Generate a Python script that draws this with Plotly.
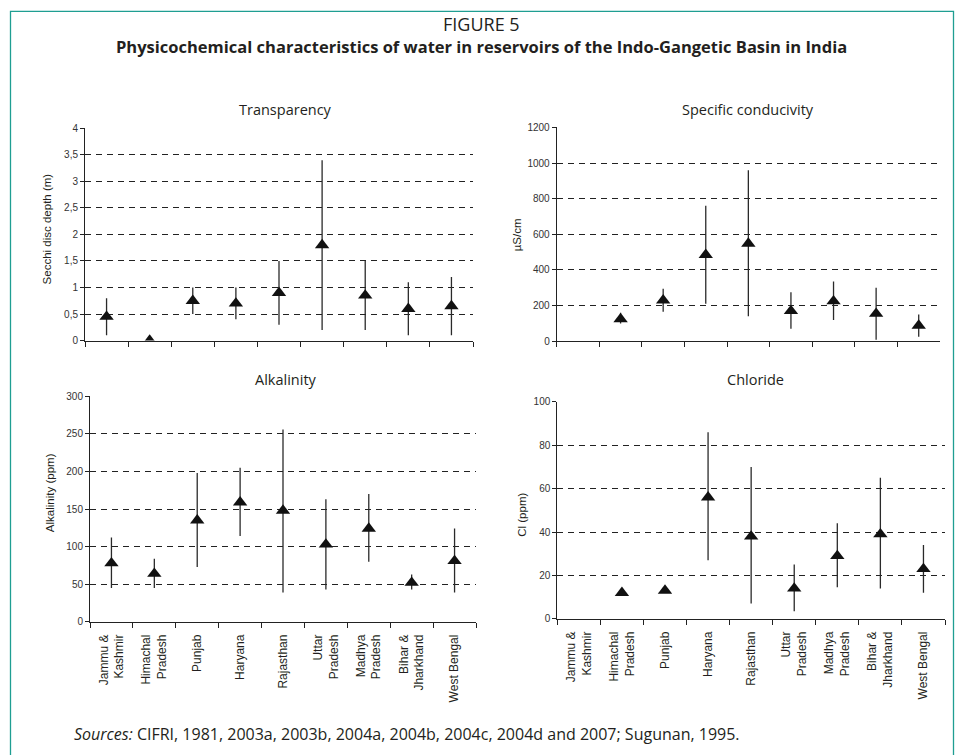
import plotly.graph_objects as go

W, H = 962, 755

regions = ["Jammu &<br>Kashmir", "Himachal<br>Pradesh", "Punjab", "Haryana", "Rajasthan",
           "Uttar<br>Pradesh", "Madhya<br>Pradesh", "Bihar &<br>Jharkhand", "West Bengal"]

# Secchi disc depth (m): mean, minimum, maximum
transparency_mean = [0.45, 0.0, 0.75, 0.7, 0.9, 1.8, 0.85, 0.6, 0.65]
transparency_min = [0.1, None, 0.5, 0.4, 0.3, 0.2, 0.2, 0.1, 0.1]
transparency_max = [0.8, None, 1.0, 1.0, 1.5, 3.4, 1.5, 1.1, 1.2]
transparency_ticks = [0, 0.5, 1, 1.5, 2, 2.5, 3, 3.5, 4]
transparency_ticktext = ["0", "0,5", "1", "1,5", "2", "2,5", "3", "3,5", "4"]

# Specific conductivity (µS/cm)
conductivity_mean = [None, 125, 230, 485, 548, 170, 225, 155, 88]
conductivity_min = [None, 100, 165, 210, 140, 70, 120, 8, 25]
conductivity_max = [None, 160, 295, 760, 960, 275, 335, 300, 150]

# Alkalinity (ppm)
alkalinity_mean = [78, 64, 135, 159, 148, 103, 124, 52, 81]
alkalinity_min = [45, 45, 73, 114, 39, 43, 80, 43, 39]
alkalinity_max = [112, 84, 198, 205, 256, 163, 170, 63, 124]

# Chloride (ppm)
chloride_mean = [None, 12, 13, 56, 38, 14, 29, 39, 23]
chloride_min = [None, None, None, 27, 7, 3.5, 14.5, 14, 12]
chloride_max = [None, None, None, 86, 70, 25, 44, 65, 34]

TEXT = "#231f20"
TICK_FONT = dict(family="Liberation Sans, Arial", size=10, color="#333333")


def fx(px):
    return px / W


def fy(py):
    return 1 - py / H


def spread(mean, lo, hi):
    plus, minus = [], []
    for m, a, b in zip(mean, lo, hi):
        plus.append(None if (m is None or b is None) else b - m)
        minus.append(None if (m is None or a is None) else m - a)
    return plus, minus


panels = [
    # (axis suffix, mean, min, max, x px span, y px span, y max, dtick, show labels)
    ("", transparency_mean, transparency_min, transparency_max, (85, 473), (340, 124.3), 4, 0.5, False),
    ("2", conductivity_mean, conductivity_min, conductivity_max, (556.7, 940), (340.7, 123.3), 1200, 200, False),
    ("3", alkalinity_mean, alkalinity_min, alkalinity_max, (90, 476), (625.7, 396.7), 300, 50, True),
    ("4", chloride_mean, chloride_min, chloride_max, (557.3, 945), (622.7, 402.3), 100, 20, True),
]

fig = go.Figure()
layout = {}
for sfx, mean, lo, hi, (x0, x1), (yb, yt), ymax, dt, labels in panels:
    plus, minus = spread(mean, lo, hi)
    fig.add_trace(go.Scatter(
        x=regions, y=mean, mode="markers",
        xaxis="x" + sfx, yaxis="y" + sfx,
        marker=dict(symbol="triangle-up", size=12.5, color="#111111", line=dict(width=0)),
        error_y=dict(type="data", symmetric=False, array=plus, arrayminus=minus,
                     color="#2a2a2a", thickness=1.3, width=0),
        showlegend=False, hoverinfo="skip",
    ))
    layout["xaxis" + sfx] = dict(
        domain=[fx(x0), fx(x1)], anchor="y" + sfx,
        type="category", categoryorder="array", categoryarray=regions,
        range=[-0.5, 8.5], tickson="boundaries",
        ticks="outside", ticklen=5, tickwidth=1, tickcolor="#222222",
        showline=True, linecolor="#222222", linewidth=1,
        showgrid=False, showticklabels=labels, tickangle=-90, ticklabelstandoff=7,
        tickfont=dict(family="Liberation Sans, Arial", size=12, color=TEXT),
        fixedrange=True,
    )
    layout["yaxis" + sfx] = dict(
        domain=[fy(yb), fy(yt)], anchor="x" + sfx,
        range=[0, ymax], dtick=dt, tick0=0,
        ticks="outside", ticklen=4, tickwidth=1, tickcolor="#222222",
        showline=True, linecolor="#222222", linewidth=1,
        showgrid=True, gridcolor="#222222", gridwidth=1, griddash="6px,5px",
        zeroline=False, tickfont=TICK_FONT, fixedrange=True,
    )

# decimal commas on the Secchi depth scale
layout["yaxis"].update(tickmode="array", tickvals=transparency_ticks, ticktext=transparency_ticktext)

annotations = []


def note(text, px, py, size, angle=0, family="Open Sans", color=TEXT, xanchor="center"):
    annotations.append(dict(
        text=text, x=fx(px), y=fy(py), xref="paper", yref="paper",
        xanchor=xanchor, yanchor="middle", showarrow=False, textangle=angle,
        font=dict(family=family, size=size, color=color),
    ))


note("FIGURE 5", 481, 18, 18)
note("<b>Physicochemical characteristics of water in reservoirs of the Indo-Gangetic Basin in India</b>",
     481, 41, 16.5)
note("Transparency", 285, 105, 14.5)
note("Specific conducivity", 748, 105, 14.5)
note("Alkalinity", 286, 380, 14.5)
note("Chloride", 755, 380, 14.5)
note("Secchi disc depth (m)", 47, 227, 11.5, angle=-90, family="Liberation Sans, Arial")
note("µS/cm", 517, 233, 11.5, angle=-90, family="Liberation Sans, Arial")
note("Alkalinity (ppm)", 50, 495, 11.5, angle=-90, family="Liberation Sans, Arial")
note("Cl (ppm)", 522, 517, 11.5, angle=-90, family="Liberation Sans, Arial")
note("<i>Sources:</i> CIFRI, 1981, 2003a, 2003b, 2004a, 2004b, 2004c, 2004d and 2007; Sugunan, 1995.",
     72, 740, 16, xanchor="left")

# teal frame around the figure
frame = dict(
    type="path", xref="paper", yref="paper",
    path=f"M {fx(10.5)},{fy(770)} L {fx(10.5)},{fy(5.5)} L {fx(953.5)},{fy(5.5)} L {fx(953.5)},{fy(770)}",
    line=dict(color="#1f9e92", width=1.3),
)

fig.update_layout(
    width=W, height=H, margin=dict(l=0, r=0, t=0, b=0),
    paper_bgcolor="white", plot_bgcolor="white",
    annotations=annotations, shapes=[frame],
    **layout,
)

fig.write_html("out.html", config={"displayModeBar": False})
